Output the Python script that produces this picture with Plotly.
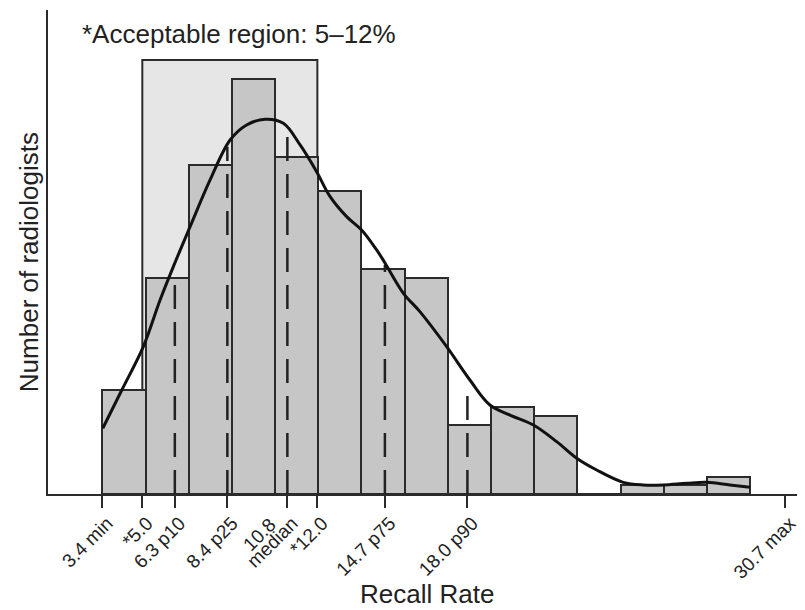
import plotly.graph_objects as go

# ---- data ----
bin_start = 3.4
bin_width = 1.727
counts = [12, 25, 38, 48, 39, 35, 26, 25, 8, 10, 9, 0, 1, 1, 2]

density_x = [3.42, 4.18, 5.04, 5.71, 6.24, 6.91, 7.71, 8.51, 9.17, 9.91, 10.64, 11.31,
             11.97, 12.51, 13.17, 13.77, 14.37, 14.68, 15.44, 16.10, 17.17, 18.10,
             18.90, 19.70, 20.64, 21.57, 22.37, 23.17, 24.23, 25.03, 25.83, 26.77,
             27.57, 28.50, 29.30]
density_y = [7.60, 12.02, 17.03, 22.43, 26.28, 30.90, 36.30, 40.92, 42.66, 43.32, 42.86, 40.35,
             37.26, 34.37, 32.06, 30.52, 28.21, 26.82, 23.20, 21.08, 17.03, 13.18,
             10.29, 9.13, 7.98, 6.05, 4.13, 2.77, 1.35, 1.04, 1.04, 1.24,
             1.35, 1.04, 0.77]

pct_x = [6.3, 8.4, 10.8, 14.7, 18.0]
pct_top = [24.4, 40.15, 41.5, 26.5, 11.33]

tick_vals = [3.4, 5.0, 6.3, 8.4, 10.8, 12.0, 14.7, 18.0, 30.7]
tick_text = ["3.4 min", "*5.0", "6.3 p10", "8.4 p25", "median", "*12.0",
             "14.7 p75", "18.0 p90", "30.7 max"]
upper_line_vals = [10.8]
upper_line_text = ["10.8"]

accept_lo, accept_hi, accept_top = 5.0, 12.0, 50.17

FONT = "Liberation Sans, Arial, Helvetica, sans-serif"
DARK = "#2b2b2b"
XRANGE = [1.228, 31.5]

centers = [bin_start + bin_width * (i + 0.5) for i in range(len(counts))]

fig = go.Figure()
fig.add_trace(go.Bar(
    x=centers, y=counts, width=bin_width,
    marker=dict(color="#c6c6c6", line=dict(color=DARK, width=2)),
    hoverinfo="skip", showlegend=False))

for px_, top in zip(pct_x, pct_top):
    fig.add_trace(go.Scatter(
        x=[px_, px_], y=[0, top], mode="lines",
        line=dict(color="#222222", width=2.5, dash="24px,13px"),
        hoverinfo="skip", showlegend=False))

fig.add_trace(go.Scatter(
    x=density_x, y=density_y, mode="lines",
    line=dict(color="#111111", width=3, shape="spline", smoothing=1.0),
    hoverinfo="skip", showlegend=False))

# invisible trace so the overlay axis (upper line of the median label) is drawn
fig.add_trace(go.Scatter(x=upper_line_vals, y=[0], xaxis="x2", yaxis="y",
                         mode="markers", marker=dict(opacity=0),
                         hoverinfo="skip", showlegend=False))

fig.add_shape(type="rect", xref="x", yref="y",
              x0=accept_lo, x1=accept_hi, y0=0, y1=accept_top,
              fillcolor="#e6e6e6", line=dict(color=DARK, width=2), layer="below")

fig.add_annotation(x=2.51, y=53.2, xref="x", yref="y",
                   text="*Acceptable region: 5\u201312%", showarrow=False,
                   xanchor="left", yanchor="middle",
                   font=dict(family=FONT, size=26, color="#222"))

fig.add_annotation(x=0.5, y=0, xref="paper", yref="paper", yshift=-100,
                   text="Recall Rate", showarrow=False,
                   xanchor="center", yanchor="middle",
                   font=dict(family=FONT, size=26, color="#222"))

fig.add_annotation(x=0, y=0.479, xref="paper", yref="paper", xshift=-19,
                   text="Number of radiologists", showarrow=False, textangle=-90,
                   xanchor="center", yanchor="middle",
                   font=dict(family=FONT, size=26, color="#222"))

# the page body has an 8px margin, so the figure is sized to end at 805x610
fig.update_layout(
    width=797, height=602,
    margin=dict(l=40, r=0, t=2, b=116),
    paper_bgcolor="white", plot_bgcolor="white",
    font=dict(family=FONT, color="#222"),
    bargap=0,
    xaxis=dict(range=XRANGE, showline=True, linecolor=DARK, linewidth=1.5,
               ticks="outside", ticklen=12, tickwidth=2, tickcolor=DARK,
               tickvals=tick_vals, ticktext=tick_text, tickangle=-45,
               ticklabelshift=5, ticklabelstandoff=-3,
               tickfont=dict(family=FONT, size=19, color="#222"),
               showgrid=False, zeroline=False, fixedrange=True),
    xaxis2=dict(range=XRANGE, overlaying="x", anchor="y", side="bottom",
                showline=False, ticks="outside", ticklen=12, tickwidth=0,
                tickcolor="rgba(0,0,0,0)",
                tickvals=upper_line_vals, ticktext=upper_line_text, tickangle=-45,
                ticklabelshift=-17, ticklabelstandoff=-1,
                tickfont=dict(family=FONT, size=19, color="#222"),
                showgrid=False, zeroline=False, fixedrange=True),
    yaxis=dict(range=[0, 55.95], showline=True, linecolor=DARK, linewidth=1.5,
               ticks="", showticklabels=False, showgrid=False, zeroline=False,
               fixedrange=True),
)

fig.write_html("out.html")
